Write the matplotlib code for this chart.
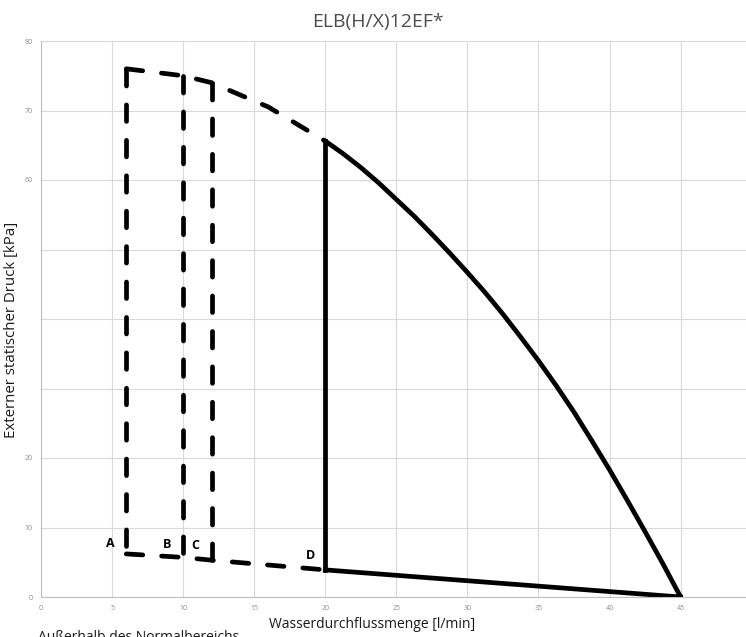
import matplotlib
matplotlib.use("Agg")
import matplotlib.pyplot as plt

plt.rcParams['font.family'] = ['Open Sans', 'DejaVu Sans']

# dashed boundaries (ranges A, B, C)
range_x = [6, 10, 12]
range_top = [76, 75, 74]
range_bottom = [6.2, 5.7, 5.3]
range_names = ["A", "B", "C"]
label_y = [7.7, 7.6, 7.4]

# dashed upper and lower edges up to point D
upper_x = [6, 10, 12, 16, 20]
upper_y = [76, 75, 74, 70.5, 65.6]
lower_x = [6, 10, 12, 20]
lower_y = [6.2, 5.7, 5.3, 3.9]

# solid area (D)
d_x = 20
curve_x = [20, 21.25, 22.5, 23.75, 25, 26.25, 27.5, 28.75, 30, 31.25, 32.5,
           33.75, 35, 36.25, 37.5, 38.75, 40, 41.25, 42.5, 43.75, 45]
curve_y = [65.6, 63.8, 61.8, 59.6, 57.2, 54.8, 52.2, 49.5, 46.7, 43.8, 40.7,
           37.4, 34.0, 30.4, 26.6, 22.5, 18.3, 13.9, 9.4, 4.8, 0]
base_x = [20, 45]
base_y = [3.9, 0]

x_ticks = [0, 5, 10, 15, 20, 25, 30, 35, 40, 45]
y_ticks = [0, 10, 20, 30, 40, 50, 60, 70, 80]
y_labels = ["0", "10", "20", "", "", "", "60", "70", "80"]

fig = plt.figure(figsize=(7.46, 6.37), dpi=100)
ax = fig.add_axes([41/746, 1 - 597/637, 1 - 41/746, (597 - 41)/637])

lw = 3.4
dash = (3.5, 4.0)

# dashed parts
ax.plot(upper_x, upper_y, color="black", lw=lw, dashes=dash,
        dash_capstyle="round")
ax.plot(lower_x, lower_y, color="black", lw=lw, dashes=dash,
        dash_capstyle="round")
for x, top, bot in zip(range_x, range_top, range_bottom):
    ax.plot([x, x], [top, bot], color="black", lw=lw, dashes=dash,
            dash_capstyle="round")

# solid parts
ax.plot([d_x, d_x], [base_y[0], curve_y[0]], color="black", lw=lw)
ax.plot(curve_x, curve_y, color="black", lw=lw, solid_joinstyle="round")
ax.plot(base_x, base_y, color="black", lw=lw)

# point labels
for x, name, ly in zip(range_x, range_names, label_y):
    ax.text(x - 1.45, ly, name, fontsize=9, fontweight="bold",
            ha="left", va="center")
ax.text(d_x - 1.35, 6.0, "D", fontsize=9, fontweight="bold",
        ha="left", va="center")

ax.set_xlim(0, 49.6)
ax.set_ylim(0, 80)
ax.set_xticks(x_ticks)
ax.set_yticks(y_ticks)
ax.set_yticklabels(y_labels)
ax.grid(True, color="#d9d9d9", lw=0.8)
ax.set_axisbelow(True)
ax.tick_params(length=0, labelsize=5, colors="#8c8c8c", pad=6)
for side in ["top", "right"]:
    ax.spines[side].set_visible(False)
for side in ["left", "bottom"]:
    ax.spines[side].set_color("#bfbfbf")
    ax.spines[side].set_linewidth(0.8)

fig.text(378/746, 1 - 22/637, "ELB(H/X)12EF*", fontsize=14,
         color="#4d4d4d", ha="center", va="center")
fig.text(372/746, 1 - 625/637, "Wasserdurchflussmenge [l/min]", fontsize=10,
         color="#1a1a1a", ha="center", va="center")
fig.text(12/746, 1 - 330/637, "Externer statischer Druck [kPa]", fontsize=10.8,
         color="#1a1a1a", ha="center", va="center", rotation=90)
# footnote is cut at the lower edge, as in the source image
fig.text(38/746, 1 - 630/637, "Außerhalb des Normalbereichs", fontsize=10,
         color="#1a1a1a", ha="left", va="top")

fig.savefig("out.png", dpi=100)
